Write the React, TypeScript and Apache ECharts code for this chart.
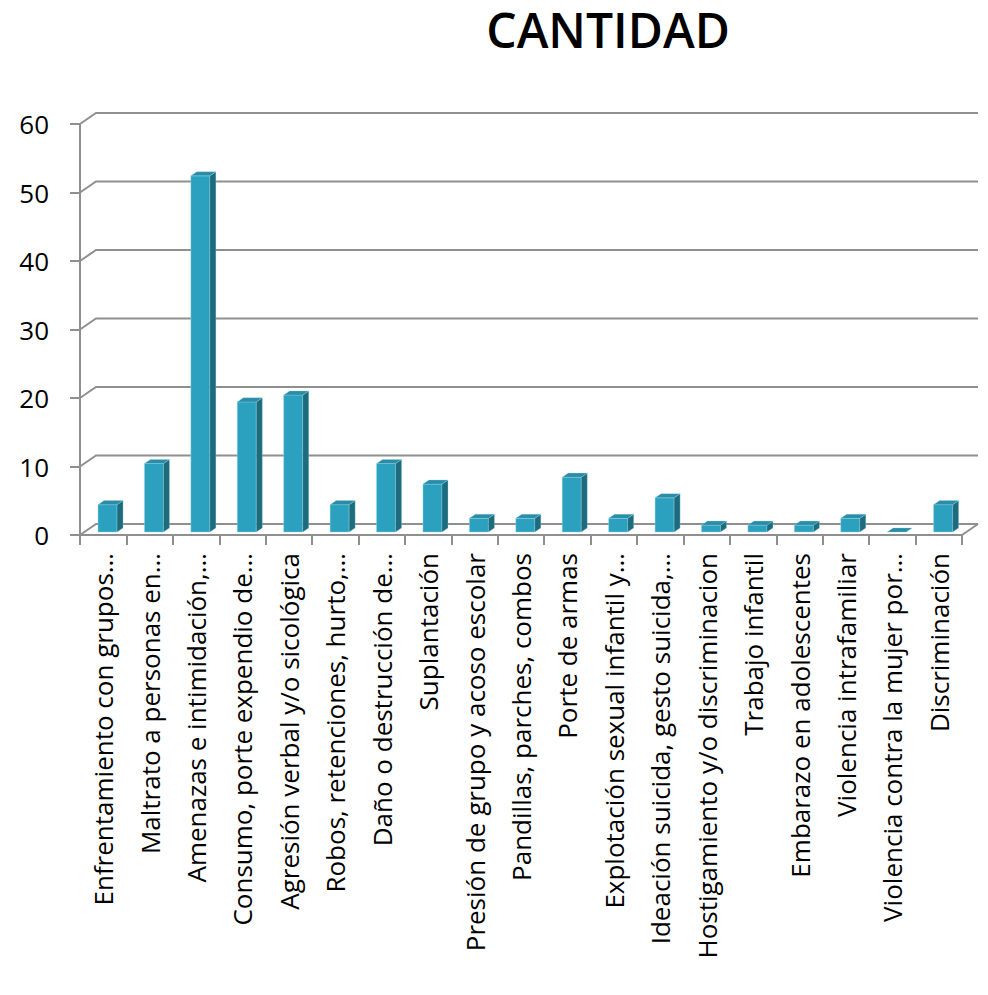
import React, { useEffect, useRef } from "react";
import * as echarts from "echarts";

const categories: string[] = [
  "Enfrentamiento con grupos…",
  "Maltrato a personas en…",
  "Amenazas e intimidación,…",
  "Consumo, porte expendio de…",
  "Agresión verbal y/o sicológica",
  "Robos, retenciones, hurto,…",
  "Daño o destrucción de…",
  "Suplantación",
  "Presión de grupo y acoso escolar",
  "Pandillas, parches, combos",
  "Porte de armas",
  "Explotación sexual infantil y…",
  "Ideación suicida, gesto suicida,…",
  "Hostigamiento y/o discriminacion",
  "Trabajo infantil",
  "Embarazo en adolescentes",
  "Violencia intrafamiliar",
  "Violencia contra la mujer por…",
  "Discriminación",
];

const cantidad: number[] = [4, 10, 52, 19, 20, 4, 10, 7, 2, 2, 8, 2, 5, 1, 1, 1, 2, 0, 4];

const yTicks: number[] = [0, 10, 20, 30, 40, 50, 60];

const titleText = "CANTIDAD";

const DX = 16;
const DY = -11;
const GRID_COLOR = "#8f8f8f";
const FONT = "'Open Sans', 'DejaVu Sans', sans-serif";

export default function App() {
  const ref = useRef<HTMLDivElement>(null);

  useEffect(() => {
    if (!ref.current) return;
    const chart = echarts.init(ref.current, undefined, { renderer: "svg" });

    const barData = cantidad.map((v, i) => [i, v]);
    const gridData = yTicks.map((v) => [0, v]);

    const option: any = {
      animation: false,
      backgroundColor: "#ffffff",
      graphic: [
        {
          type: "text",
          x: 608,
          y: 29,
          style: {
            text: titleText,
            font: `600 48px ${FONT}`,
            lineHeight: 50,
            fill: "#000000",
            textAlign: "center",
            textVerticalAlign: "middle",
          },
        },
      ],
      grid: {
        left: 80,
        right: 26,
        top: 124,
        bottom: 460,
        containLabel: false,
      },
      xAxis: {
        type: "category",
        data: categories,
        boundaryGap: true,
        axisLine: { show: true, lineStyle: { color: GRID_COLOR, width: 2 } },
        axisTick: {
          show: true,
          length: 10,
          alignWithLabel: false,
          lineStyle: { color: GRID_COLOR, width: 2 },
        },
        axisLabel: {
          interval: 0,
          rotate: 90,
          margin: 18,
          color: "#000000",
          fontSize: 26,
          fontFamily: FONT,
        },
        splitLine: { show: false },
      },
      yAxis: {
        type: "value",
        min: 0,
        max: 60,
        interval: 10,
        axisLine: { show: true, lineStyle: { color: GRID_COLOR, width: 2 } },
        axisTick: {
          show: true,
          length: 10,
          lineStyle: { color: GRID_COLOR, width: 2 },
        },
        axisLabel: {
          margin: 31,
          color: "#000000",
          fontSize: 26,
          fontFamily: FONT,
        },
        splitLine: { show: false },
      },
      series: [
        {
          type: "custom",
          name: "grid",
          data: gridData,
          encode: { x: 0, y: 1 },
          clip: false,
          z: 1,
          silent: true,
          renderItem: (params: any, api: any) => {
            const v = api.value(1);
            const cs = params.coordSys;
            const y = api.coord([0, v])[1];
            const x0 = cs.x;
            const x1 = cs.x + cs.width;
            const children: any[] = [
              {
                type: "polyline",
                shape: {
                  points: [
                    [x0, y],
                    [x0 + DX, y + DY],
                    [x1 + DX, y + DY],
                  ],
                },
                style: { stroke: GRID_COLOR, lineWidth: 2, fill: "none" },
              },
            ];
            if (v === 0) {
              children.push({
                type: "line",
                shape: { x1: x1, y1: y, x2: x1 + DX, y2: y + DY },
                style: { stroke: GRID_COLOR, lineWidth: 2 },
              });
            }
            return { type: "group", children };
          },
        },
        {
          type: "custom",
          name: "CANTIDAD",
          data: barData,
          encode: { x: 0, y: 1 },
          clip: false,
          z: 5,
          renderItem: (params: any, api: any) => {
            const idx = api.value(0);
            const v = api.value(1);
            const base = api.coord([idx, 0]);
            const top = api.coord([idx, v]);
            const band = api.size([1, 0])[0];
            const w = band * 0.41;
            const f0 = 0.27;
            const f1 = 0.645;
            const ox0 = DX * f0;
            const oy0 = DY * f0;
            const sdx = DX * (f1 - f0);
            const sdy = DY * (f1 - f0);
            const xl = base[0] - w / 2 + ox0;
            const xr = base[0] + w / 2 + ox0;
            const yb = base[1] + oy0;
            const yt = top[1] + oy0;
            const edge = "rgba(150,215,235,0.55)";
            const children: any[] = [];
            if (v > 0) {
              children.push({
                type: "polygon",
                shape: {
                  points: [
                    [xl, yt],
                    [xr, yt],
                    [xr, yb],
                    [xl, yb],
                  ],
                },
                style: { fill: "#2ba1bf", stroke: edge, lineWidth: 0.8 },
              });
              children.push({
                type: "polygon",
                shape: {
                  points: [
                    [xr, yt],
                    [xr + sdx, yt + sdy],
                    [xr + sdx, yb + sdy],
                    [xr, yb],
                  ],
                },
                style: { fill: "#1e6b7d", stroke: edge, lineWidth: 0.6 },
              });
            }
            children.push({
              type: "polygon",
              shape: {
                points: [
                  [xl, yt],
                  [xr, yt],
                  [xr + sdx, yt + sdy],
                  [xl + sdx, yt + sdy],
                ],
              },
              style: { fill: "#2a8ca6", stroke: edge, lineWidth: 0.6 },
            });
            return { type: "group", children };
          },
        },
      ],
    };

    chart.setOption(option);
    return () => {
      chart.dispose();
    };
  }, []);

  return (
    <div
      ref={ref}
      style={{ position: "absolute", left: 0, top: 0, width: 988, height: 995 }}
    />
  );
}
